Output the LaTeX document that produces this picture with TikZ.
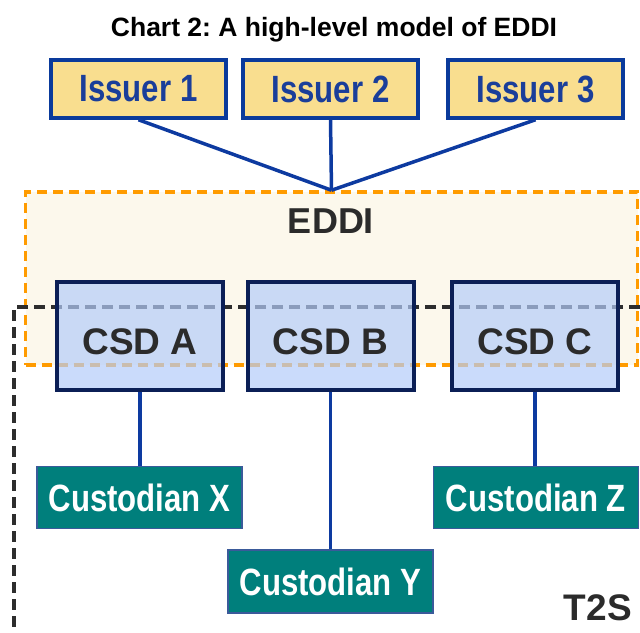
\documentclass[tikz,border=0pt]{standalone}
\usepackage{fontspec}
\setmainfont{Liberation Sans}
\newfontfamily\narrowfont[FakeStretch=0.82]{Liberation Sans}
\definecolor{issfill}{RGB}{249,222,143}
\definecolor{issblue}{RGB}{10,58,155}
\definecolor{isstext}{RGB}{26,62,154}
\definecolor{linkblue}{RGB}{13,58,160}
\definecolor{eddifill}{RGB}{252,248,236}
\definecolor{eddiorange}{RGB}{255,155,0}
\definecolor{csdfill}{RGB}{180,204,249}
\definecolor{csdborder}{RGB}{11,31,86}
\definecolor{custfill}{RGB}{0,127,124}
\definecolor{custborder}{RGB}{58,90,154}
\definecolor{darktext}{RGB}{43,43,43}
\definecolor{t2sline}{RGB}{45,45,45}
\frenchspacing
\begin{document}
\begin{tikzpicture}[x=1pt,y=-1pt,
  issuerbox/.style={draw=issblue,line width=3.5pt,fill=issfill,minimum width=175pt,minimum height=58pt,inner sep=0pt,
    text=isstext,font=\narrowfont\bfseries\fontsize{38}{40}\selectfont},
  csdbox/.style={draw=csdborder,line width=4pt,fill=csdfill,fill opacity=0.7,draw opacity=1,minimum width=166pt,minimum height=108pt,inner sep=0pt},
  csdtext/.style={text=darktext,font=\bfseries\fontsize{37}{40}\selectfont,inner sep=0pt},
  custbox/.style={draw=custborder,line width=1.8pt,fill=custfill,minimum width=205pt,minimum height=62pt,inner sep=0pt,
    text=white,font=\narrowfont\bfseries\fontsize{38}{40}\selectfont},
  link/.style={draw=linkblue,line width=3.5pt},
  eddiframe/.style={draw=eddiorange,line width=3.5pt,dash pattern=on 10pt off 6pt,fill=eddifill,minimum width=612pt,minimum height=173pt,inner sep=0pt},
  t2sframe/.style={draw=t2sline,line width=3.5pt,dash pattern=on 11pt off 6pt},
]
\path[use as bounding box] (0,0) rectangle (640,632);

% title
\node[font=\bfseries\fontsize{26.5}{30}\selectfont,inner sep=0pt] (title) at (334,30) {Chart 2: A high-level model of EDDI};

% EDDI frame
\node[eddiframe] (eddi) at (331.5,278.5) {};
\node[text=darktext,font=\bfseries\fontsize{36}{40}\selectfont,inner sep=0pt] (eddilabel) at (331,221.5) {EDDI};

% issuers
\node[issuerbox] (i1) at (138.5,89) {Issuer 1};
\node[issuerbox] (i2) at (330.5,89) {Issuer 2};
\node[issuerbox] (i3) at (535.5,89) {Issuer 3};
\draw[link] (i1.south) -- (eddi.north);
\draw[link] (i2.south) -- (eddi.north);
\draw[link] (i3.south) -- (eddi.north);

% T2S boundary
\coordinate (t2sa) at (640,307);
\coordinate (t2sb) at (14,307);
\coordinate (t2sc) at (14,632);
\draw[t2sframe] (t2sa) -- (t2sb) -- (t2sc);
\node[text=darktext,font=\bfseries\fontsize{37}{40}\selectfont,inner sep=0pt,anchor=base east] (t2s) at (632,620) {T2S};

% CSD boxes
\node[csdbox] (ca) at (140,336) {};
\node[csdbox] (cb) at (330.5,336) {};
\node[csdbox] (cc) at (535,336) {};
\node[csdtext] (cat) at (140,341.5) {CSD A};
\node[csdtext] (cbt) at (330.5,341.5) {CSD B};
\node[csdtext] (cct) at (535,341.5) {CSD C};

% custodians
\node[custbox] (cx) at (139.5,497.5) {Custodian X};
\node[custbox] (cz) at (536,497.5) {Custodian Z};
\node[custbox,minimum height=63pt] (cy) at (330.5,581.5) {Custodian Y};
\draw[link] (ca.south) -- (ca.south |- cx.north);
\draw[link] (cb.south) -- (cb.south |- cy.north);
\draw[link] (cc.south) -- (cc.south |- cz.north);
\end{tikzpicture}
\end{document}
